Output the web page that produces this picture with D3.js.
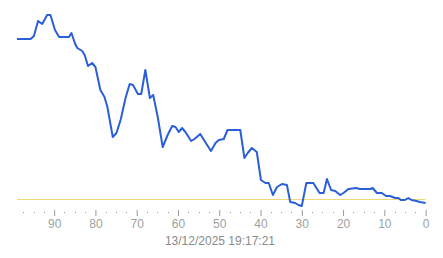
<!DOCTYPE html>
<html>
<head>
<meta charset="utf-8">
<script src="https://cdn.jsdelivr.net/npm/d3@7"></script>
<style>
  body { margin: 0; background: #fff; }
  text { font-family: "Liberation Sans Narrow", "Arial Narrow", "Liberation Sans", Arial, sans-serif; }
</style>
</head>
<body>
<div id="chart"></div>
<script>
// time (units ago) and value
const ago = [99, 95.7, 94.9, 93.9, 92.9, 91.7, 90.9, 89.8, 88.8, 86.4, 85.8, 85.0, 84.4, 83.2, 82.6,
  81.8, 80.8, 80.0, 78.8, 77.8, 77.1, 75.8, 74.9, 73.9, 72.7, 71.7, 70.9, 69.7, 68.9, 67.9,
  66.8, 66.0, 64.9, 63.7, 62.5, 61.4, 60.6, 59.8, 59.0, 58.2, 56.8, 56.0, 54.6, 53.4, 52.0,
  50.9, 50.1, 48.9, 48.0, 44.9, 43.9, 43.1, 42.1, 40.9, 39.9, 38.8, 38.0, 37.0, 36.0, 34.8,
  33.6, 32.8, 31.6, 30.8, 30.0, 28.9, 27.2, 25.7, 24.7, 23.9, 22.9, 21.9, 20.7, 19.9, 18.7,
  16.8, 15.9, 13.4, 12.8, 11.8, 10.6, 9.6, 8.6, 7.4, 6.6, 6.0, 5.0, 4.2, 3.4, 2.2, 1.4, 0];
const values = [171, 171, 174, 189, 186, 195, 195, 180, 173, 173, 177, 167, 162, 159, 155,
  144, 147, 143, 120, 113, 103, 73, 77, 90, 112, 126, 125, 116, 116, 140,
  112, 115, 93, 63, 75, 84, 83, 78, 82, 78, 69, 71, 76, 68, 59,
  67, 70, 71, 80, 80, 52, 57, 62, 58, 30, 27, 27, 15, 23, 26,
  25, 8, 7, 5, 4, 27, 27, 17, 17, 31, 20, 19, 15, 17, 21,
  22, 21, 21, 22, 17, 17, 14, 14, 12, 12, 10, 10, 12, 10, 9, 8, 7];
const threshold = 11;
const majorTicks = [90, 80, 70, 60, 50, 40, 30, 20, 10, 0];
const stamp = "13/12/2025 19:17:21";

const W = 443, H = 258;
const svg = d3.select("#chart").append("svg")
  .attr("width", W).attr("height", H);

const x = d3.scaleLinear().domain([99, 0]).range([17, 425.6]);
const y = d3.scaleLinear().domain([0, 200]).range([210, 10]);

// threshold line
svg.append("line")
  .attr("x1", x(99)).attr("x2", x(0))
  .attr("y1", y(threshold) + 0.5).attr("y2", y(threshold) + 0.5)
  .attr("stroke", "#efd978").attr("stroke-width", 1);

// data line
const pts = ago.map((a, i) => [a, values[i]]);
svg.append("path")
  .datum(pts)
  .attr("fill", "none")
  .attr("stroke", "#2b5fd9")
  .attr("stroke-width", 2)
  .attr("stroke-linejoin", "round")
  .attr("d", d3.line().x(d => x(d[0])).y(d => y(d[1])));

// minor ticks
const minor = d3.range(0, 99, 2.5).filter(v => v % 10 !== 0);
svg.selectAll(".minor")
  .data(minor)
  .enter().append("rect")
  .attr("x", d => Math.round(x(d)))
  .attr("y", 212)
  .attr("width", 1).attr("height", 1)
  .attr("fill", "#999");

// major axis
const axis = svg.append("g")
  .attr("transform", "translate(0,210)")
  .call(d3.axisBottom(x).tickValues(majorTicks).tickSize(6).tickPadding(3));
axis.select(".domain").remove();
axis.selectAll(".tick line").attr("stroke", "#999");
axis.selectAll(".tick text")
  .attr("fill", "#a0a0a0")
  .style("font-size", "12px");

svg.append("text")
  .attr("x", 220).attr("y", 245)
  .attr("text-anchor", "middle")
  .attr("fill", "#8a8a8a")
  .style("font-size", "12px")
  .text(stamp);
</script>
</body>
</html>
